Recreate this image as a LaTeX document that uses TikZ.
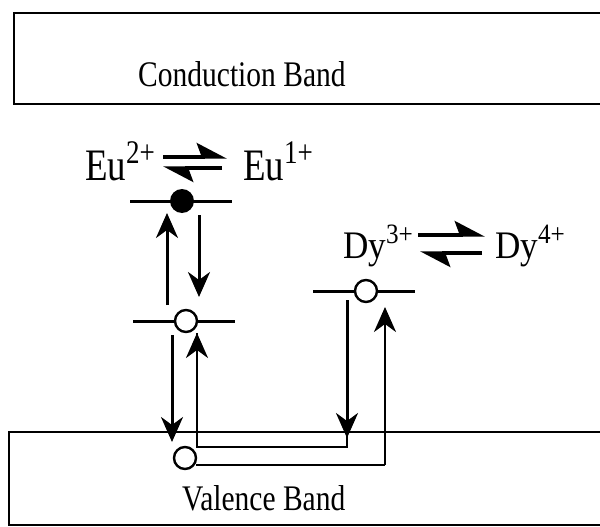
\documentclass[tikz,border=0pt]{standalone}
\usepackage{fontspec}
\setmainfont{Liberation Serif}
\newfontfamily\narrowserif{Liberation Serif}[FakeStretch=0.82]
\newfontfamily\dyserif{Liberation Serif}[FakeStretch=0.9]
\usetikzlibrary{arrows.meta}

\newcommand{\ionlabel}[4]{#1\raisebox{#4}{\fontsize{#3}{#3}\selectfont #2}}

\begin{document}
\begin{tikzpicture}[
  x=1pt,y=-1pt,
  band/.style={line width=2.8pt},
  bandtext/.style={inner sep=0pt,anchor=base west,font=\narrowserif\fontsize{36}{40}\selectfont},
  eutext/.style={inner sep=0pt,anchor=base west,font=\narrowserif\fontsize{45}{50}\selectfont},
  dytext/.style={inner sep=0pt,anchor=base west,font=\dyserif\fontsize{39}{44}\selectfont},
  level/.style={line width=3pt},
  hole/.style={circle,draw,line width=2.4pt,fill=white,minimum size=22pt,inner sep=0pt},
  electron/.style={circle,fill=black,minimum size=24pt,inner sep=0pt},
  arr/.style={line width=3pt,-{Stealth[length=25pt,width=22pt,inset=8pt]}},
  route/.style={line width=2.8pt},
  harp/.style={line width=3.4pt,-{Stealth[left,length=27pt,width=28pt,inset=5pt]}}
]
\useasboundingbox (0,0) rectangle (600,527);

% bands
\draw[band] (600,13) -- (14,13) -- (14,104) -- (600,104);
\draw[band] (600,432) -- (9,432) -- (9,525) -- (600,525);
\node[bandtext] (cb) at (138,87) {Conduction Band};
\node[bandtext] (vb) at (182,510) {Valence Band};

% ion labels
\node[eutext] (eu2) at (85,180) {\ionlabel{Eu}{2+}{33pt}{17pt}};
\node[eutext] (eu1) at (243,180) {\ionlabel{Eu}{1+}{33pt}{17pt}};
\node[dytext] (dy3) at (343,258) {\ionlabel{Dy}{3+}{28pt}{15pt}};
\node[dytext] (dy4) at (495,258) {\ionlabel{Dy}{4+}{28pt}{15pt}};

\coordinate (euf0) at (163,157); \coordinate (euf1) at (227,157);
\coordinate (eub0) at (222,168); \coordinate (eub1) at (163,168);
\coordinate (dyf0) at (418,235); \coordinate (dyf1) at (485,235);
\coordinate (dyb0) at (482,253); \coordinate (dyb1) at (420,253);
\draw[harp] (euf0) -- (euf1);
\draw[harp] (eub0) -- (eub1);
\draw[harp] (dyf0) -- (dyf1);
\draw[harp] (dyb0) -- (dyb1);

% levels
\draw[level] (130,201) -- (232,201);
\draw[level] (133,321) -- (235,321);
\draw[level] (313,291) -- (415,291);
\node[electron] (eA) at (182,201) {};
\node[hole] (hB) at (186,321) {};
\node[hole] (hD) at (366,291) {};
\node[hole] (hV) at (185,458) {};

% transitions
\coordinate (up0) at (167,305); \coordinate (up1) at (167,213);
\coordinate (dn0) at (199,215); \coordinate (dn1) at (199,297);
\coordinate (dv0) at (172,335); \coordinate (dv1) at (172,442);
\draw[arr] (up0) -- (up1);
\draw[arr] (dn0) -- (dn1);
\draw[arr] (dv0) -- (dv1);

\coordinate (dyS) at (347,300); \coordinate (dyT) at (347,438);
\coordinate (k1) at (347,447); \coordinate (k2) at (197,447);
\coordinate (euT) at (197,333);
\draw[route] (dyS) -- (k1) -- (k2) -- (euT);
\draw[arr] (dyS) -- (dyT);
\draw[arr,line width=2.8pt] (k2) -- (euT);

\coordinate (vS) at (196,465); \coordinate (k3) at (385,465);
\coordinate (dyU) at (385,307);
\draw[route] (vS) -- (k3);
\draw[arr,line width=2.8pt] (k3) -- (dyU);
\end{tikzpicture}
\end{document}
